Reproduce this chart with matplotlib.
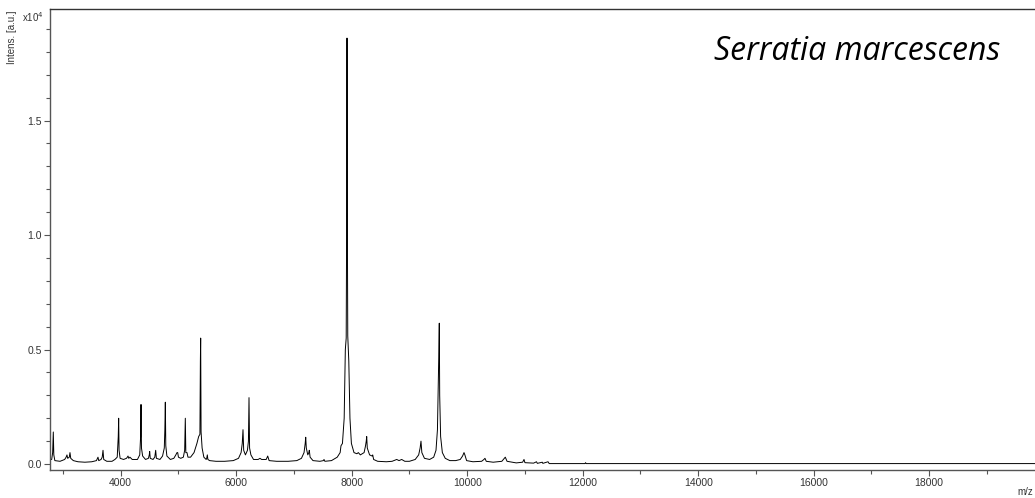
import matplotlib
matplotlib.use("Agg")
import matplotlib.pyplot as plt
from matplotlib.ticker import MultipleLocator, FixedLocator

# spectrum trace (m/z, intensity in units of 1e4)
mz_low = [2776, 2805, 2822, 2833, 2842, 2860, 2950, 3030, 3055, 3070, 3082, 3110,
          3122, 3135, 3180, 3260, 3380, 3500, 3580, 3607, 3620, 3660, 3680, 3694,
          3706, 3760, 3850, 3900, 3940, 3958, 3965, 3972, 3990, 4050, 4100, 4115,
          4127, 4140, 4160, 4200, 4290, 4330, 4345, 4352, 4360, 4380, 4430, 4480,
          4495, 4502, 4512, 4560, 4590, 4606, 4618, 4680, 4725, 4755, 4765, 4773,
          4781, 4800, 4860, 4920, 4955, 4975, 4987, 5000, 5040]
int_low = [0.02, 0.02, 0.05, 0.14, 0.04, 0.015, 0.012, 0.02, 0.03, 0.04, 0.025, 0.03,
           0.05, 0.025, 0.015, 0.01, 0.008, 0.01, 0.015, 0.03, 0.015, 0.02, 0.03, 0.06,
           0.02, 0.012, 0.012, 0.02, 0.03, 0.12, 0.20, 0.06, 0.025, 0.02, 0.025, 0.03,
           0.035, 0.025, 0.03, 0.02, 0.02, 0.04, 0.12, 0.26, 0.07, 0.035, 0.02, 0.025,
           0.04, 0.055, 0.025, 0.02, 0.03, 0.06, 0.025, 0.02, 0.035, 0.07, 0.15, 0.27,
           0.08, 0.035, 0.02, 0.025, 0.04, 0.05, 0.05, 0.03, 0.025]

mz_mid = [5085, 5108, 5119, 5128, 5148, 5165, 5210, 5270, 5320, 5350, 5372, 5380,
          5385, 5392, 5410, 5440, 5480, 5490, 5500, 5510, 5540, 5650, 5800, 5950,
          6040, 6085, 6105, 6118, 6130, 6160, 6195, 6212, 6222, 6232, 6255, 6300,
          6380, 6412, 6440, 6520, 6546, 6570, 6700, 6900, 7050, 7130, 7175, 7195,
          7204, 7214, 7240, 7258, 7266, 7280, 7330, 7450, 7510, 7521, 7535, 7650]
int_mid = [0.03, 0.06, 0.20, 0.05, 0.05, 0.03, 0.03, 0.05, 0.09, 0.12, 0.13, 0.45,
           0.55, 0.14, 0.07, 0.03, 0.02, 0.025, 0.04, 0.02, 0.015, 0.012, 0.012, 0.015,
           0.025, 0.05, 0.09, 0.15, 0.06, 0.04, 0.06, 0.10, 0.29, 0.07, 0.04, 0.02,
           0.02, 0.025, 0.02, 0.02, 0.035, 0.015, 0.012, 0.012, 0.015, 0.025, 0.05, 0.09,
           0.117, 0.07, 0.04, 0.05, 0.06, 0.03, 0.015, 0.012, 0.015, 0.02, 0.012, 0.015]

mz_high = [7750, 7800, 7815, 7840, 7870, 7890, 7905, 7912, 7919, 7926, 7932, 7950,
           7970, 7995, 8040, 8090, 8115, 8150, 8215, 8240, 8252, 8260, 8270, 8310,
           8355, 8364, 8380, 8450, 8600, 8700, 8780, 8820, 8866, 8920, 9000, 9100,
           9160, 9185, 9200, 9215, 9260, 9350, 9420, 9460, 9485, 9500, 9508, 9517,
           9524, 9540, 9570, 9620, 9700, 9800, 9880, 9920, 9945, 9960, 9990, 10100,
           10250, 10290, 10308, 10330, 10450, 10600, 10645, 10660, 10690, 10850, 10960, 10984,
           11000, 11150, 11200, 11215, 11300, 11310, 11400, 11420, 11550, 12040, 12050, 12060,
           20000]
int_high = [0.03, 0.05, 0.08, 0.09, 0.2, 0.5, 0.55, 1.0, 1.86, 1.0, 0.56, 0.45,
            0.2, 0.09, 0.05, 0.045, 0.05, 0.04, 0.05, 0.08, 0.10, 0.12, 0.07, 0.04,
            0.035, 0.04, 0.02, 0.012, 0.01, 0.012, 0.02, 0.015, 0.02, 0.012, 0.012, 0.02,
            0.04, 0.07, 0.10, 0.05, 0.025, 0.02, 0.03, 0.06, 0.15, 0.35, 0.47, 0.615,
            0.3, 0.12, 0.05, 0.025, 0.015, 0.015, 0.02, 0.035, 0.05, 0.04, 0.015, 0.01,
            0.012, 0.02, 0.025, 0.012, 0.008, 0.012, 0.025, 0.03, 0.012, 0.005, 0.008, 0.02,
            0.006, 0.004, 0.01, 0.003, 0.008, 0.003, 0.01, 0.002, 0.002, 0.002, 0.006, 0.002,
            0.002]

x_ticks = [4000, 6000, 8000, 10000, 12000, 14000, 16000, 18000]
y_ticks = [0.0, 0.5, 1.0, 1.5]
title = "Serratia marcescens"

mz = mz_low + mz_mid + mz_high
intens = int_low + int_mid + int_high

W, H = 1035, 498
fig = plt.figure(figsize=(W / 100, H / 100), dpi=100)
# the axes run a little past the right edge, as in the cropped screenshot
ax = fig.add_axes([50 / W, 1 - 470 / H, 990 / W, 461 / H])

ax.plot(mz, intens, color="black", lw=0.7)

ax.set_xlim(2776, 19919)
ax.set_ylim(-0.026, 1.987)

spine_col = "#555555"
for s in ["left", "bottom", "top", "right"]:
    ax.spines[s].set_color(spine_col)
    ax.spines[s].set_linewidth(1.0)
ax.spines["top"].set_color("#333333")

ax.xaxis.set_major_locator(FixedLocator(x_ticks))
ax.xaxis.set_minor_locator(MultipleLocator(1000))
ax.yaxis.set_major_locator(FixedLocator(y_ticks))
ax.yaxis.set_minor_locator(MultipleLocator(0.1))
ax.set_yticklabels([f"{v:.1f}" for v in y_ticks])

for lab in ax.get_xticklabels() + ax.get_yticklabels():
    lab.set_fontfamily("Liberation Sans")
    lab.set_fontsize(7.5)
    lab.set_color("#333333")
ax.tick_params(which="major", length=4, width=0.8, color=spine_col, pad=2)
ax.tick_params(which="minor", length=3, width=0.8, color=spine_col)

fig.text(12 / W, 1 - 37 / H, "Intens. [a.u.]", rotation=90, ha="center", va="center",
         fontsize=7, family="Liberation Sans", color="#333333")
fig.text(22 / W, 1 - 17 / H, r"x10$^4$", ha="left", va="center",
         fontsize=7, family="Liberation Sans", color="#333333")
fig.text(1033 / W, 1 - 492 / H, "m/z", ha="right", va="center",
         fontsize=7, family="Liberation Sans", color="#333333")

fig.text(857 / W, 1 - 51 / H, title, ha="center", va="center",
         fontsize=23, style="italic", family="Open Sans", color="black")

fig.savefig("out.png", dpi=100)
